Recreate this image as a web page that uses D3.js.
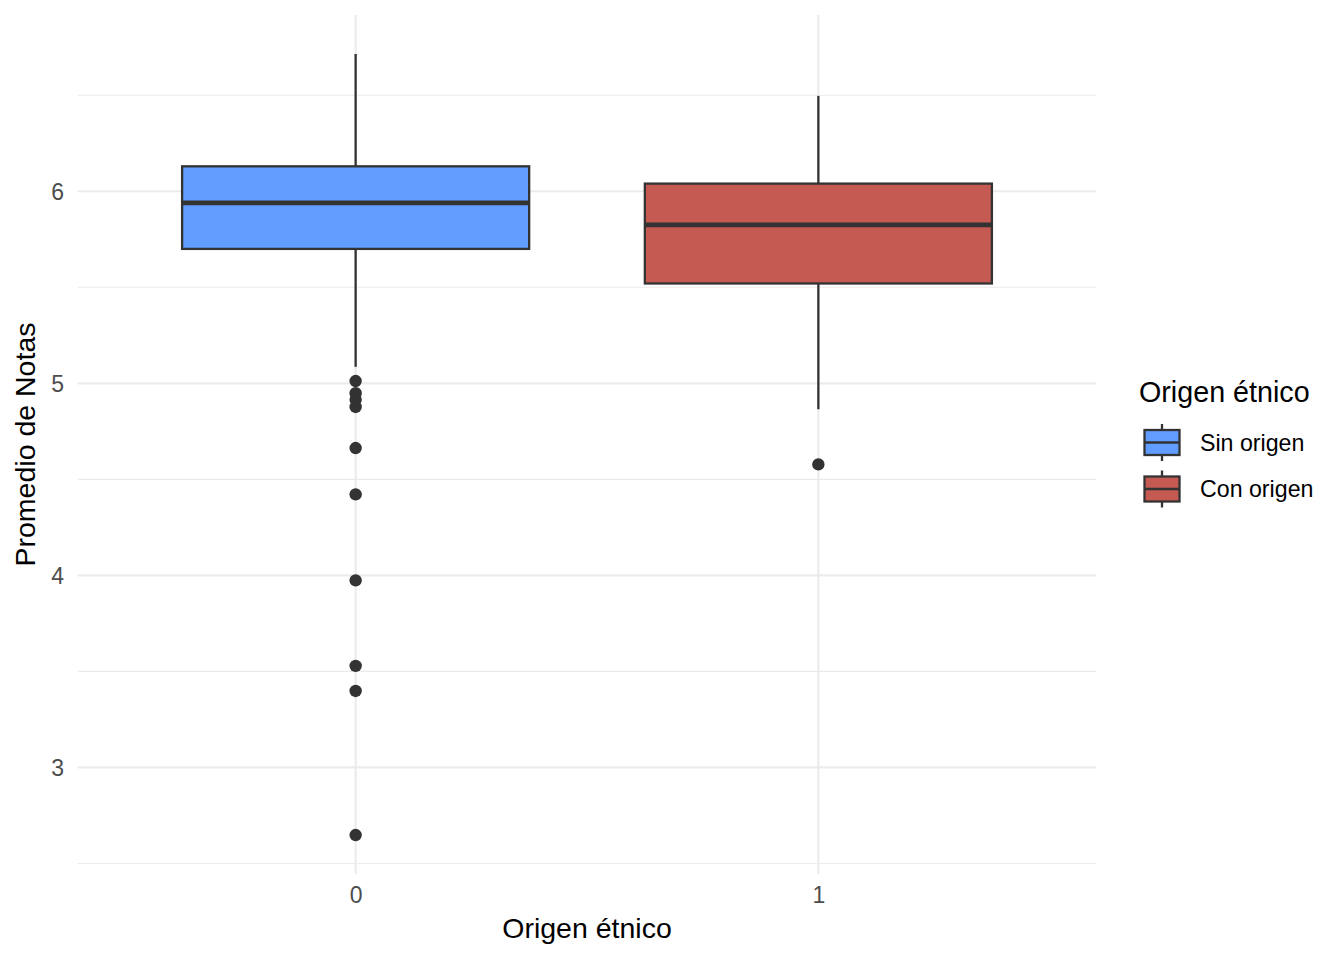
<!DOCTYPE html>
<html><head><meta charset="utf-8">
<script src="https://cdn.jsdelivr.net/npm/d3@7"></script>
<style>body{margin:0;background:#fff}svg{display:block;font-family:"Liberation Sans",Arial,sans-serif}</style>
</head><body>
<svg id="c" width="1344" height="960"></svg>
<script>
const categories = ["0", "1"];
const groupLabels = ["Sin origen", "Con origen"];
const colors = ["#619CFF", "#C55A53"];
const q1 = [5.70, 5.52];
const median = [5.94, 5.825];
const q3 = [6.13, 6.04];
const whiskerLow = [5.086, 4.865];
const whiskerHigh = [6.715, 6.497];
const outliers0 = [5.012, 4.949, 4.915, 4.877, 4.663, 4.422, 3.974, 3.529, 3.398, 2.648];
const outliers1 = [4.578];
const yTicks = [3, 4, 5, 6];
const yMinor = [2.5, 3.5, 4.5, 5.5, 6.5];

const svg = d3.select("#c");
const L = 78, R = 1096, T = 15, B = 874;
const y = d3.scaleLinear().domain([2.445, 6.918]).range([B, T]);
const x = d3.scalePoint().domain(categories).range([L, R]).padding(0.6);
const step = x.step();
const boxW = step * 0.75;

const g = svg.append("g");
g.selectAll(".mn").data(yMinor).join("line")
  .attr("x1", L).attr("x2", R).attr("y1", d => y(d)).attr("y2", d => y(d))
  .attr("stroke", "#EBEBEB").attr("stroke-width", 1.1);
g.selectAll(".mj").data(yTicks).join("line")
  .attr("x1", L).attr("x2", R).attr("y1", d => y(d)).attr("y2", d => y(d))
  .attr("stroke", "#EBEBEB").attr("stroke-width", 2.1);
g.selectAll(".vx").data(categories).join("line")
  .attr("x1", d => x(d)).attr("x2", d => x(d)).attr("y1", T).attr("y2", B)
  .attr("stroke", "#EBEBEB").attr("stroke-width", 2.1);

const lc = "#333333";
categories.forEach((c, i) => {
  const cx = x(c);
  g.append("line").attr("x1", cx).attr("x2", cx).attr("y1", y(whiskerHigh[i])).attr("y2", y(q3[i]))
    .attr("stroke", lc).attr("stroke-width", 2.3);
  g.append("line").attr("x1", cx).attr("x2", cx).attr("y1", y(q1[i])).attr("y2", y(whiskerLow[i]))
    .attr("stroke", lc).attr("stroke-width", 2.3);
  g.append("rect").attr("x", cx - boxW / 2).attr("width", boxW)
    .attr("y", y(q3[i])).attr("height", y(q1[i]) - y(q3[i]))
    .attr("fill", colors[i]).attr("stroke", lc).attr("stroke-width", 2.3);
  g.append("line").attr("x1", cx - boxW / 2).attr("x2", cx + boxW / 2)
    .attr("y1", y(median[i])).attr("y2", y(median[i]))
    .attr("stroke", lc).attr("stroke-width", 4.8);
  const outs = i === 0 ? outliers0 : outliers1;
  g.selectAll(".o" + i).data(outs).join("circle")
    .attr("cx", cx).attr("cy", d => y(d)).attr("r", 6.2).attr("fill", lc);
});

const ya = svg.append("g").attr("transform", `translate(${L - 14},0)`)
  .call(d3.axisLeft(y).tickValues(yTicks).tickSize(0).tickFormat(d3.format("d")));
ya.select(".domain").remove();
ya.selectAll("text").attr("font-size", 23).attr("fill", "#4D4D4D")
  .attr("font-family", "Liberation Sans, Arial, sans-serif").attr("x", 0).attr("dy", "0.36em");

const xa = svg.append("g").attr("transform", `translate(0,${B + 13})`)
  .call(d3.axisBottom(x).tickSize(0));
xa.select(".domain").remove();
xa.selectAll("text").attr("font-size", 23).attr("fill", "#4D4D4D")
  .attr("font-family", "Liberation Sans, Arial, sans-serif").attr("dy", "0.71em").attr("y", 0);

svg.append("text").attr("x", (L + R) / 2).attr("y", 938).attr("text-anchor", "middle")
  .attr("font-size", 28.5).attr("fill", "#000").text("Origen étnico");
svg.append("text").attr("transform", `translate(35,${(T + B) / 2}) rotate(-90)`)
  .attr("text-anchor", "middle").attr("font-size", 28.5).attr("fill", "#000").text("Promedio de Notas");

const lg = svg.append("g");
lg.append("text").attr("x", 1139).attr("y", 402).attr("font-size", 28.7).attr("fill", "#000").text("Origen étnico");
groupLabels.forEach((lab, i) => {
  const top = 430 + i * 46.5, h = 25, cx = 1162;
  lg.append("line").attr("x1", cx).attr("x2", cx).attr("y1", top - 6).attr("y2", top + h + 6)
    .attr("stroke", lc).attr("stroke-width", 2.3);
  lg.append("rect").attr("x", 1144.5).attr("y", top).attr("width", 35).attr("height", h)
    .attr("fill", colors[i]).attr("stroke", lc).attr("stroke-width", 2.3);
  lg.append("line").attr("x1", 1144.5).attr("x2", 1179.5).attr("y1", top + h / 2).attr("y2", top + h / 2)
    .attr("stroke", lc).attr("stroke-width", 2.3);
  lg.append("text").attr("x", 1200).attr("y", top + h / 2).attr("dy", "0.36em")
    .attr("font-size", 23.2).attr("fill", "#000").text(lab);
});
</script>
</body></html>
